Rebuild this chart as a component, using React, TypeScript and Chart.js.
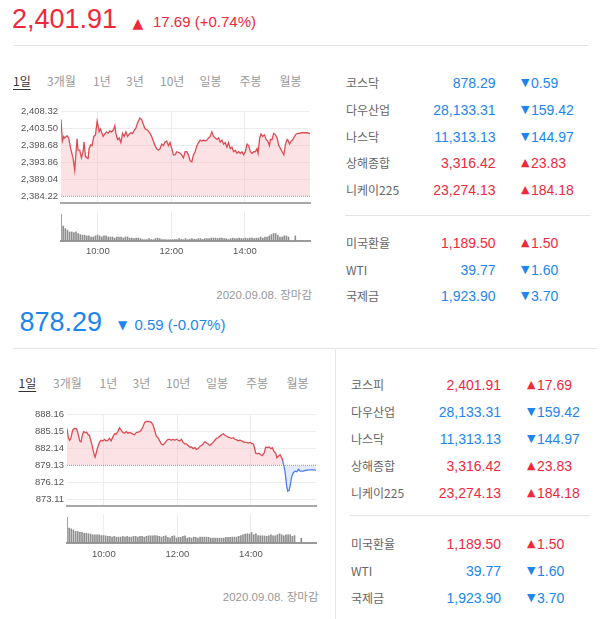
import React, { useEffect, useRef } from "react";
import { Chart, registerables } from "chart.js";
Chart.register(...registerables);

// ---------- data ----------
const TIME_TICKS = [60, 180, 300];
const TIME_LABELS = ["10:00", "12:00", "14:00"];
const X_MAX = 406;
const VOL_STEP = 3.5;
const VOL_CLOSE_TIME = 382;

const kospiBase = 2384.22;
const kospiTicks = [2384.22, 2389.04, 2393.86, 2398.68, 2403.5, 2408.32];
const kospiTimes = [0,2.2,4.4,6,9.8,12.5,15.8,19.6,22.4,24,26.2,27.8,30.5,33.3,36,37.6,39.8,42.5,44.2,45.8,48.5,50.7,53.5,56.2,58.9,60.5,62.2,64.4,66,68.7,71.5,74.2,76.9,79.6,82.4,85.1,87.8,89.5,92.2,94.9,97.6,100.4,103.1,105.8,108.6,111.3,114,116.7,119.5,122.2,124.9,128.7,131.5,134.2,136.9,141.3,145.1,147.8,150.6,153.3,156,158.7,161.5,164.2,166.9,169.6,172.4,175.1,177.8,180.6,183.3,186,188.7,191.5,194.2,196.9,199.7,202.4,205.1,207.8,210.6,213.3,216,218.7,221.5,224.2,226.9,229.7,232.4,235.1,237.8,240.6,243.3,246,248.7,251.5,254.2,256.9,259.7,262.4,265.1,267.8,270.6,273.3,276,278.7,281.5,284.2,286.9,289.7,292.4,295.1,297.8,300.6,303.3,306,308.7,311.5,314.2,316.9,319.6,321.3,324,326.2,328.9,331.7,334.4,337.1,339.9,341.5,344.2,346.9,349.7,352.4,355.1,357.9,360.6,363.3,366.1,368.8,369.9,372.6,375.4,378.1,380.8,383.5,386.3,389,391.7,396.1,401.6,406];
const kospiValues = [2405.89,2399.82,2401.12,2400.69,2401.30,2400.69,2397.66,2395.06,2391.59,2395.49,2400.43,2397.22,2397.22,2395.06,2396.79,2399.56,2395.49,2395.06,2394.88,2397.66,2398.70,2398.52,2401.12,2401.56,2405.46,2404.16,2402.42,2403.29,2402.42,2401.12,2401.82,2402.42,2401.99,2402.68,2402.42,2402.86,2404.16,2401.99,2400.26,2400.69,2399.39,2401.99,2401.12,2402.42,2401.12,2401.82,2402.16,2401.99,2402.86,2403.55,2405.03,2406.33,2405.89,2404.59,2403.29,2402.86,2401.99,2401.12,2399.82,2398.52,2397.66,2397.22,2397.66,2398.96,2398.52,2399.56,2399.82,2398.52,2399.39,2397.66,2395.92,2395.92,2396.79,2396.62,2396.36,2395.92,2395.06,2396.79,2396.79,2395.92,2394.19,2393.93,2395.92,2396.79,2398.52,2399.39,2400.08,2399.82,2400.08,2399.82,2400.08,2400.69,2401.12,2402.42,2401.12,2400.69,2400.26,2400.69,2399.56,2400.08,2398.96,2399.39,2398.09,2399.39,2397.66,2398.09,2396.79,2397.22,2396.36,2396.79,2396.36,2396.79,2395.92,2396.79,2398.96,2398.52,2396.79,2396.36,2396.79,2396.79,2397.66,2396.36,2400.69,2401.82,2401.12,2401.56,2400.26,2399.82,2398.52,2400.26,2400.26,2401.99,2401.56,2400.69,2398.52,2397.66,2396.79,2395.92,2398.96,2400.26,2400.08,2398.96,2399.82,2400.26,2401.12,2401.82,2401.99,2401.99,2402.16,2402.16,2402.16,2401.91];
const kospiVolume = [100,56,47,41,34,34,32,34,28,24,22,22,19,19,15,15,19,22,19,15,19,19,15,15,15,11,15,15,15,11,15,15,11,11,9,11,11,9,6,5,5,9,5,5,9,11,9,5,5,5,5,5,5,6,5,9,6,5,9,5,6,9,6,6,9,9,6,9,9,9,11,11,11,9,11,11,9,9,6,9,11,9,9,11,9,9,11,9,11,11,9,11,11,15,11,15,15,19,24,28,28,22,15,15,19,19,15];
const kospiCloseVolume = 19;

const kosdaqBase = 879.13;
const kosdaqTicks = [873.11, 876.12, 879.13, 882.14, 885.15, 888.16];
const kosdaqTimes = [0,2.2,4.4,6.5,9.3,12,14.7,16.4,18.5,20.7,22.9,25.1,27.3,30,32.2,34.4,36.5,38.2,40.4,42.5,44.7,45.8,47.5,50.2,52.9,55.6,58.4,61.1,63.8,66.6,69.3,72,74.7,77.5,80.2,82.9,85.6,88.4,91.1,93.8,96.6,99.3,102,104.7,107.5,110.2,112.9,115.6,118.4,121.1,123.8,126.6,129.3,132,134.7,137.5,140.2,142.9,145.6,148.4,151.1,153.8,156.5,159.3,162,164.7,167.5,170.2,172.9,175.6,178.4,181.1,183.8,186.6,189.3,192,194.7,197.5,200.2,202.9,205.6,208.4,211.1,213.8,216.6,219.3,222,224.7,227.5,230.2,232.9,235.6,238.4,241.1,243.8,246.6,249.3,252,254.7,257.5,260.2,262.9,265.6,268.4,271.1,273.8,276.6,279.3,282,284.7,287.5,290.2,292.9,295.6,298.4,301.1,303.8,305.5,307.6,310.4,313.1,315.8,318.6,321.3,324,326.7,329.5,332.2,334.9,337.6,340.4,342,344.7,347.5,350.2,351.8,353.5,355.1,356.7,358.4,360,362.2,364.4,366.5,369.3,372,374.7,377.5,380.2,382.9,385.6,388.4,393.8,399.3,406];
const kosdaqValues = [885.61,883.98,883.54,883.98,885.33,885.61,885.61,885.33,884.52,883.43,883.27,884.52,885.06,884.90,884.95,884.52,884.41,883.71,882.89,881.80,880.83,880.55,881.26,882.35,883.16,883.54,883.43,883.71,883.43,883.54,883.87,883.43,884.09,884.68,884.63,885.06,885.72,885.34,884.90,884.79,885.06,884.79,884.90,884.79,884.63,884.52,884.90,884.95,885.06,885.34,885.88,886.69,886.86,886.86,886.80,886.69,886.26,885.34,884.25,883.98,883.43,882.89,882.73,883.00,883.43,883.71,883.71,883.54,883.71,883.54,883.71,883.54,883.43,883.71,883.16,882.89,882.89,882.62,882.35,882.35,882.07,882.24,881.91,882.07,882.46,882.62,882.89,883.27,883.05,882.89,882.62,882.89,883.16,883.54,883.87,883.98,884.25,884.52,884.68,884.41,884.25,884.09,883.98,883.87,883.98,883.71,883.60,883.43,883.54,883.43,883.27,883.16,883.16,883.05,883.16,883.00,882.89,882.35,881.26,881.15,881.26,880.99,880.83,881.26,882.35,882.24,882.35,882.07,882.24,881.53,881.26,880.45,880.72,880.99,880.45,879.90,879.09,878.27,876.91,875.28,874.58,874.74,875.83,877.19,877.89,878.11,878.00,878.43,878.11,878.11,878.11,878.22,878.33,878.33,878.29];
const kosdaqVolume = [100,58,55,51,45,45,42,42,38,38,36,35,32,32,32,32,29,29,28,26,26,23,26,23,23,23,26,23,26,23,23,26,26,23,26,26,23,26,28,28,28,29,28,26,23,26,28,22,19,26,28,19,22,22,26,28,19,22,19,22,22,19,23,23,23,23,22,19,19,19,19,19,19,19,22,22,22,23,23,23,26,29,32,35,36,35,41,32,36,29,28,28,28,26,28,32,28,28,32,36,32,28,32,32,32,26,29];
const kosdaqCloseVolume = 19;

const tabLabels = ["1일", "3개월", "1년", "3년", "10년", "일봉", "주봉", "월봉"];
const dateLabel = "2020.09.08. 장마감";

const idxNames1 = ["코스닥", "다우산업", "나스닥", "상해종합", "니케이225"];
const idxValues1 = ["878.29", "28,133.31", "11,313.13", "3,316.42", "23,274.13"];
const idxChanges1 = ["0.59", "159.42", "144.97", "23.83", "184.18"];
const idxUp1 = [false, false, false, true, true];
const idxNames2 = ["코스피", "다우산업", "나스닥", "상해종합", "니케이225"];
const idxValues2 = ["2,401.91", "28,133.31", "11,313.13", "3,316.42", "23,274.13"];
const idxChanges2 = ["17.69", "159.42", "144.97", "23.83", "184.18"];
const idxUp2 = [true, false, false, true, true];
const fxNames = ["미국환율", "WTI", "국제금"];
const fxValues = ["1,189.50", "39.77", "1,923.90"];
const fxChanges = ["1.50", "1.60", "3.70"];
const fxUp = [true, false, false];

// ---------- styles ----------
const RED_TXT = "#f0283c";
const BLUE_TXT = "#1c86ee";
const LINE_RED = "#de4b52";
const LINE_BLUE = "#4a80ec";
const FILL_RED = "rgba(250,185,192,0.42)";
const FILL_BLUE = "rgba(185,205,245,0.42)";
const GRID = "#ececec";
const NUM_FONT = '"Liberation Sans", Arial, "Noto Sans CJK KR", sans-serif';
const K_FONT = '"Noto Sans CJK KR", "Liberation Sans", sans-serif';
const TRI_FONT = '"DejaVu Sans", sans-serif';

const fmt = (v: number) =>
  Number(v).toLocaleString("en-US", { minimumFractionDigits: 2, maximumFractionDigits: 2 });

function PriceChart(props: any) {
  const { left, top, times, values, base, ticks, yMin, yMax } = props;
  const ref = useRef<HTMLCanvasElement>(null);
  useEffect(() => {
    const pts = times.map((t: number, i: number) => ({ x: t, y: values[i] }));
    const chart = new Chart(ref.current as HTMLCanvasElement, {
      type: "line",
      data: {
        datasets: [
          {
            data: pts,
            borderColor: LINE_RED,
            borderWidth: 1.3,
            pointRadius: 0,
            tension: 0,
            fill: { target: { value: base }, above: FILL_RED, below: FILL_BLUE },
            segment: {
              borderColor: (c: any) => (c.p1.parsed.y < base || c.p0.parsed.y < base ? LINE_BLUE : LINE_RED),
            },
          } as any,
          {
            data: [{ x: 0, y: base }, { x: X_MAX, y: base }],
            borderColor: "#8a8a8a",
            borderWidth: 1,
            borderDash: [1, 1],
            pointRadius: 0,
            fill: false,
          } as any,
        ],
      },
      options: {
        responsive: false,
        animation: false,
        events: [],
        layout: { padding: { top: 11, right: 10, left: 0, bottom: 0 } },
        plugins: { legend: { display: false }, tooltip: { enabled: false } },
        scales: {
          x: {
            type: "linear",
            min: 0,
            max: X_MAX,
            afterBuildTicks: (s: any) => { s.ticks = TIME_TICKS.map((v) => ({ value: v })); },
            afterFit: (s: any) => { s.height = 1; },
            ticks: { display: false },
            grid: { color: GRID, drawTicks: false },
            border: { display: true, color: "#a8a8a8", width: 2 },
          },
          y: {
            min: yMin,
            max: yMax,
            afterBuildTicks: (s: any) => { s.ticks = ticks.map((v: number) => ({ value: v })); },
            afterFit: (s: any) => { s.width = 61; },
            ticks: {
              autoSkip: false,
              padding: 3,
              color: "#555",
              font: { size: 9.5, family: NUM_FONT },
              callback: (v: any) => fmt(v),
            },
            grid: {
              drawTicks: false,
              color: (c: any) => (c.tick && Math.abs(c.tick.value - base) < 1e-6 ? "rgba(0,0,0,0)" : GRID),
            },
            border: { display: false },
          },
        },
      } as any,
    });
    return () => chart.destroy();
  }, []);
  return (
    <canvas ref={ref} width={320} height={112}
      style={{ position: "absolute", left, top, width: 320, height: 112 }} />
  );
}

function VolumeChart(props: any) {
  const { left, top, height, volume, closeVolume, labelPad } = props;
  const ref = useRef<HTMLCanvasElement>(null);
  useEffect(() => {
    const pts = volume.map((v: number, i: number) => ({ x: i * VOL_STEP, y: v }));
    pts.push({ x: VOL_CLOSE_TIME, y: closeVolume });
    const chart = new Chart(ref.current as HTMLCanvasElement, {
      type: "bar",
      data: {
        datasets: [{ data: pts, backgroundColor: "#8e8e8e", barThickness: 1, borderWidth: 0 } as any],
      },
      options: {
        responsive: false,
        animation: false,
        events: [],
        layout: { padding: { top: 1, right: 10, left: 0, bottom: 0 } },
        plugins: { legend: { display: false }, tooltip: { enabled: false } },
        scales: {
          x: {
            type: "linear",
            min: 0,
            max: X_MAX,
            offset: false,
            afterBuildTicks: (s: any) => { s.ticks = TIME_TICKS.map((v) => ({ value: v })); },
            afterFit: (s: any) => { s.height = 25; },
            ticks: {
              autoSkip: false,
              maxRotation: 0,
              padding: labelPad,
              color: "#555",
              font: { size: 9.5, family: NUM_FONT },
              callback: (v: any) => TIME_LABELS[TIME_TICKS.indexOf(Number(v))],
            },
            grid: { color: GRID, drawTicks: false, offset: false },
            border: { display: true, color: "#9a9a9a", width: 2 },
          },
          y: {
            min: 0,
            max: 109,
            afterFit: (s: any) => { s.width = 61; },
            ticks: { display: false },
            grid: { display: false },
            border: { display: false },
          },
        },
      } as any,
    });
    return () => chart.destroy();
  }, []);
  return (
    <canvas ref={ref} width={320} height={height}
      style={{ position: "absolute", left, top, width: 320, height }} />
  );
}

function Txt(props: any) {
  const { x, cy, size, lh, color, family, right, children, extra } = props;
  const style: any = {
    position: "absolute",
    top: cy - lh / 2,
    lineHeight: lh + "px",
    fontSize: size,
    color,
    fontFamily: family,
    whiteSpace: "nowrap",
    ...(extra || {}),
  };
  if (right) style.right = 600 - x;
  else style.left = x;
  return <div style={style}>{children}</div>;
}

function Panel(props: any) {
  const c = props.cfg;
  const mainColor = c.up ? RED_TXT : BLUE_TXT;
  return (
    <>
      {/* header */}
      <Txt x={c.priceX} cy={c.priceCy} size={27} lh={30} color={mainColor} family={NUM_FONT}>{c.price}</Txt>
      <Txt x={c.triX} cy={c.triCy} size={c.triSize} lh={16} color={mainColor} family={TRI_FONT}>{c.up ? "▲" : "▼"}</Txt>
      <Txt x={c.chgX} cy={c.chgCy} size={15} lh={18} color={mainColor} family={NUM_FONT}>{c.change}</Txt>
      <div style={{ position: "absolute", left: c.ruleX1, top: c.ruleY, width: c.ruleX2 - c.ruleX1, height: 1, background: "#e4e4e4" }} />
      {c.vLine && (
        <div style={{ position: "absolute", left: c.vLine[0], top: c.vLine[1], width: 1, height: c.vLine[2] - c.vLine[1], background: "#e8e8e8" }} />
      )}
      {/* tabs */}
      {tabLabels.map((t, i) => (
        <Txt key={t} x={c.tabXs[i]} cy={c.tabCy} size={12} lh={16} color={i === 0 ? "#333" : "#9a9a9a"} family={K_FONT}
          extra={i === 0 ? { textDecoration: "underline", textUnderlineOffset: "3px" } : undefined}>{t}</Txt>
      ))}
      {/* charts */}
      <PriceChart left={c.chartLeft} top={c.lineTop} times={c.times} values={c.values} base={c.base}
        ticks={c.ticks} yMin={c.yMin} yMax={c.yMax} />
      <VolumeChart left={c.chartLeft} top={c.volTop} height={c.volH} volume={c.volume}
        closeVolume={c.closeVolume} labelPad={c.labelPad} />
      <Txt x={c.dateRight} cy={c.dateCy} size={11.5} lh={16} color="#999" family={NUM_FONT} right>{dateLabel}</Txt>
      {/* table */}
      {c.names.map((n: string, i: number) => (
        <React.Fragment key={"r" + i}>
          <Txt x={c.nameX} cy={c.rows[i]} size={12} lh={16} color="#666" family={K_FONT}>{n}</Txt>
          <Txt x={c.valRight} cy={c.rows[i]} size={14} lh={16} color={c.rowUp[i] ? RED_TXT : BLUE_TXT} family={NUM_FONT} right>{c.values2[i]}</Txt>
          <Txt x={c.triColX} cy={c.rows[i]} size={11} lh={16} color={c.rowUp[i] ? RED_TXT : BLUE_TXT} family={TRI_FONT}>{c.rowUp[i] ? "▲" : "▼"}</Txt>
          <Txt x={c.triColX + 10} cy={c.rows[i]} size={14} lh={16} color={c.rowUp[i] ? RED_TXT : BLUE_TXT} family={NUM_FONT}>{c.changes[i]}</Txt>
        </React.Fragment>
      ))}
      <div style={{ position: "absolute", left: c.sepX1, top: c.sepY, width: c.sepX2 - c.sepX1, height: 1, background: "#e4e4e4" }} />
      {fxNames.map((n, i) => (
        <React.Fragment key={"f" + i}>
          <Txt x={c.nameX} cy={c.rows2[i]} size={12} lh={16} color="#666" family={K_FONT}>{n}</Txt>
          <Txt x={c.valRight} cy={c.rows2[i]} size={14} lh={16} color={fxUp[i] ? RED_TXT : BLUE_TXT} family={NUM_FONT} right>{fxValues[i]}</Txt>
          <Txt x={c.triColX} cy={c.rows2[i]} size={11} lh={16} color={fxUp[i] ? RED_TXT : BLUE_TXT} family={TRI_FONT}>{fxUp[i] ? "▲" : "▼"}</Txt>
          <Txt x={c.triColX + 10} cy={c.rows2[i]} size={14} lh={16} color={fxUp[i] ? RED_TXT : BLUE_TXT} family={NUM_FONT}>{fxChanges[i]}</Txt>
        </React.Fragment>
      ))}
    </>
  );
}

const P1 = {
  up: true, price: "2,401.91", change: "17.69 (+0.74%)",
  priceX: 12, priceCy: 18.7, triX: 132.5, triCy: 22.5, triSize: 14, chgX: 153, chgCy: 22.2,
  ruleY: 45, ruleX1: 13, ruleX2: 588, vLine: null,
  tabCy: 81, tabXs: [13, 47, 93, 126, 160, 199.5, 239.5, 279.5],
  chartLeft: 0, lineTop: 100, volTop: 211, volH: 55, labelPad: 5,
  times: kospiTimes, values: kospiValues, base: kospiBase, ticks: kospiTicks, yMin: 2382.2, yMax: 2408.32,
  volume: kospiVolume, closeVolume: kospiCloseVolume,
  dateRight: 312, dateCy: 295,
  names: idxNames1, values2: idxValues1, changes: idxChanges1, rowUp: idxUp1,
  nameX: 346, valRight: 495.5, triColX: 521,
  rows: [83.3, 110, 136.7, 163.3, 190], sepY: 215, sepX1: 345, sepX2: 590, rows2: [242.7, 270, 296.3],
};

const P2 = {
  up: false, price: "878.29", change: "0.59 (-0.07%)",
  priceX: 19.5, priceCy: 321.7, triX: 118, triCy: 325, triSize: 12, chgX: 134.5, chgCy: 324.7,
  ruleY: 348, ruleX1: 13, ruleX2: 597, vLine: [335, 348, 619],
  tabCy: 383.3, tabXs: [18.5, 53, 99.5, 132.5, 166, 206, 246, 286.5],
  chartLeft: 6, lineTop: 403, volTop: 514, volH: 54, labelPad: 6,
  times: kosdaqTimes, values: kosdaqValues, base: kosdaqBase, ticks: kosdaqTicks, yMin: 871.92, yMax: 888.16,
  volume: kosdaqVolume, closeVolume: kosdaqCloseVolume,
  dateRight: 318.5, dateCy: 597.3,
  names: idxNames2, values2: idxValues2, changes: idxChanges2, rowUp: idxUp2,
  nameX: 351, valRight: 501, triColX: 527,
  rows: [385, 412.3, 439.3, 466, 492.7], sepY: 515, sepX1: 350, sepX2: 590, rows2: [544.3, 571, 597.7],
};

export default function App() {
  return (
    <div style={{ position: "absolute", left: 0, top: 0, width: 600, height: 619, background: "#fff", overflow: "hidden" }}>
      <Panel cfg={P1} />
      <Panel cfg={P2} />
    </div>
  );
}
